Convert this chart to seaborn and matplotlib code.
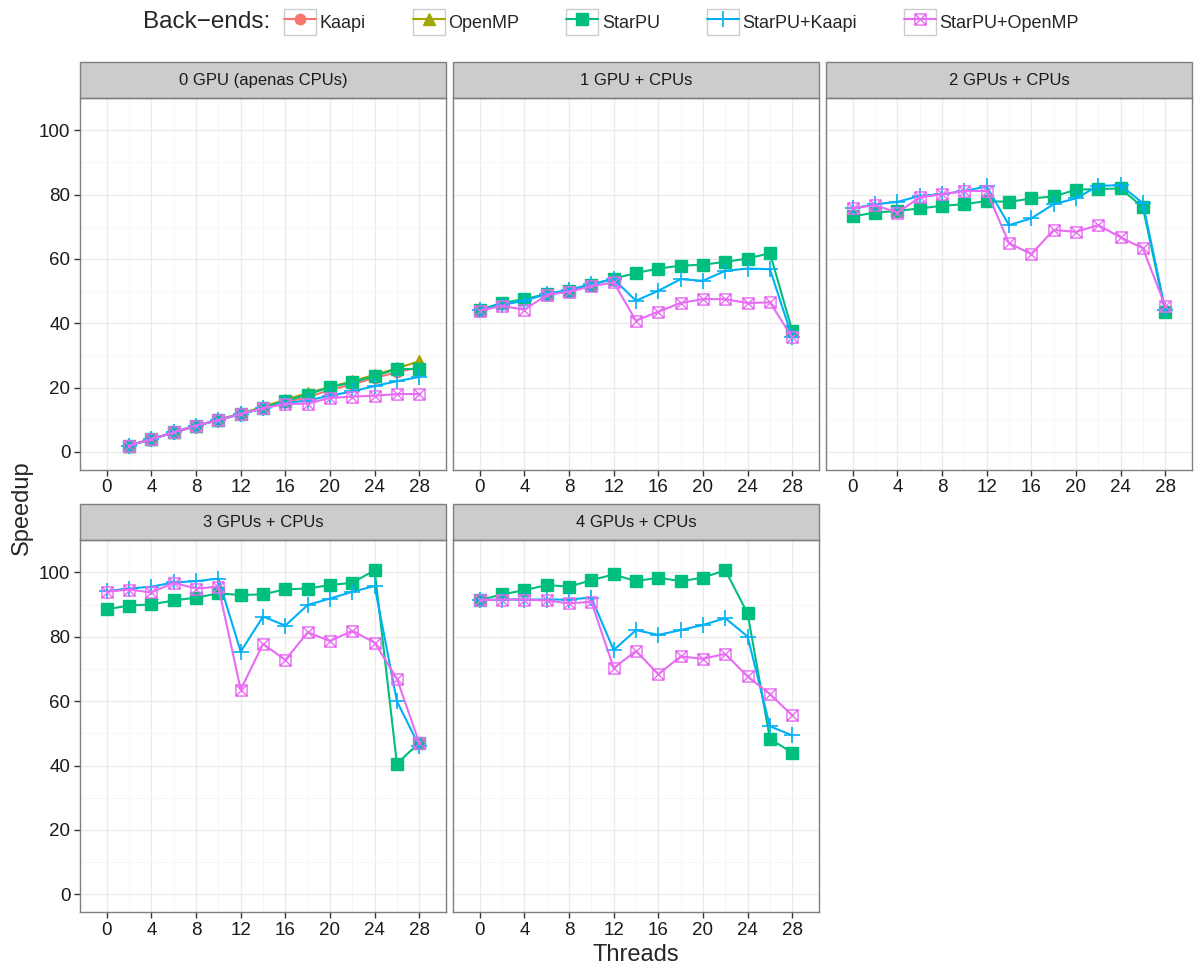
import numpy as np
import pandas as pd
import matplotlib
matplotlib.use("Agg")
import matplotlib.pyplot as plt
import seaborn as sns
from matplotlib.path import Path
from matplotlib.patches import Rectangle
from matplotlib.lines import Line2D
from matplotlib.legend_handler import HandlerLine2D

# ---- data ----
panels = ["0 GPU (apenas CPUs)", "1 GPU + CPUs", "2 GPUs + CPUs",
          "3 GPUs + CPUs", "4 GPUs + CPUs"]
backends = ["Kaapi", "OpenMP", "StarPU", "StarPU+Kaapi", "StarPU+OpenMP"]

threads_cpu = [2, 4, 6, 8, 10, 12, 14, 16, 18, 20, 22, 24, 26, 28]
threads_gpu = [0, 2, 4, 6, 8, 10, 12, 14, 16, 18, 20, 22, 24, 26, 28]

# 0 GPU
cpu_kaapi = [2.0, 4.0, 6.0, 8.0, 10.0, 11.8, 13.6, 15.5, 17.0, 19.3, 21.0, 23.0, 24.8, 26.3]
cpu_openmp = [2.0, 4.0, 6.1, 8.2, 10.0, 12.0, 14.0, 16.3, 18.3, 20.2, 22.0, 24.0, 26.0, 28.2]
cpu_starpu = [2.0, 4.0, 6.1, 8.2, 9.9, 11.8, 13.6, 15.9, 17.8, 20.2, 21.6, 23.6, 25.8, 25.8]
cpu_sp_kaapi = [2.0, 4.0, 6.1, 8.2, 9.9, 11.8, 13.6, 15.2, 16.0, 17.5, 18.8, 20.5, 22.0, 23.3]
cpu_sp_openmp = [2.0, 4.0, 6.1, 8.2, 9.9, 11.8, 13.6, 14.9, 15.0, 16.8, 17.2, 17.5, 18.0, 18.0]

# 1 GPU
g1_starpu = [44.2, 46.3, 47.5, 49.1, 50.1, 51.9, 53.9, 55.6, 57.0, 57.9, 58.2, 59.1, 60.1, 61.8, 37.7]
g1_sp_kaapi = [44.2, 45.7, 47.0, 49.1, 50.4, 52.2, 53.7, 47.0, 50.1, 53.7, 53.2, 56.3, 57.0, 56.8, 35.6]
g1_sp_openmp = [43.9, 45.4, 44.2, 48.8, 49.8, 51.5, 52.7, 40.8, 43.6, 46.3, 47.5, 47.5, 46.3, 46.5, 35.6]

# 2 GPUs
g2_starpu = [73.2, 74.4, 74.9, 75.7, 76.5, 77.0, 78.0, 77.7, 78.8, 79.4, 81.5, 81.7, 81.9, 76.0, 43.4]
g2_sp_kaapi = [75.7, 77.0, 77.7, 79.6, 80.1, 81.1, 82.5, 70.5, 72.6, 77.0, 78.8, 82.7, 82.9, 77.3, 44.2]
g2_sp_openmp = [75.7, 76.7, 74.4, 79.1, 80.1, 81.1, 81.1, 64.9, 61.5, 69.0, 68.4, 70.5, 66.7, 63.3, 45.4]

# 3 GPUs
g3_starpu = [88.6, 89.7, 90.1, 91.3, 92.2, 93.5, 93.0, 93.2, 94.8, 95.0, 96.1, 96.8, 100.7, 40.6, 47.1]
g3_sp_kaapi = [94.2, 95.0, 95.6, 96.9, 97.3, 98.1, 75.4, 86.3, 83.5, 89.9, 91.9, 94.0, 95.8, 60.0, 46.0]
g3_sp_openmp = [94.0, 94.7, 93.8, 96.8, 95.0, 95.6, 63.6, 77.8, 72.8, 81.4, 78.7, 81.9, 78.2, 67.0, 47.1]

# 4 GPUs
g4_starpu = [91.4, 93.2, 94.5, 96.1, 95.6, 97.6, 99.4, 97.3, 98.4, 97.3, 98.4, 100.7, 87.3, 48.3, 44.0]
g4_sp_kaapi = [91.4, 91.6, 91.6, 91.6, 91.6, 92.2, 75.9, 82.1, 80.6, 82.1, 83.7, 85.8, 80.1, 52.2, 49.4]
g4_sp_openmp = [91.4, 91.6, 91.6, 91.3, 90.4, 90.9, 70.3, 75.6, 68.4, 73.9, 73.2, 74.7, 67.7, 62.2, 55.6]

series = [
    (panels[0], "Kaapi", threads_cpu, cpu_kaapi),
    (panels[0], "OpenMP", threads_cpu, cpu_openmp),
    (panels[0], "StarPU", threads_cpu, cpu_starpu),
    (panels[0], "StarPU+Kaapi", threads_cpu, cpu_sp_kaapi),
    (panels[0], "StarPU+OpenMP", threads_cpu, cpu_sp_openmp),
    (panels[1], "StarPU", threads_gpu, g1_starpu),
    (panels[1], "StarPU+Kaapi", threads_gpu, g1_sp_kaapi),
    (panels[1], "StarPU+OpenMP", threads_gpu, g1_sp_openmp),
    (panels[2], "StarPU", threads_gpu, g2_starpu),
    (panels[2], "StarPU+Kaapi", threads_gpu, g2_sp_kaapi),
    (panels[2], "StarPU+OpenMP", threads_gpu, g2_sp_openmp),
    (panels[3], "StarPU", threads_gpu, g3_starpu),
    (panels[3], "StarPU+Kaapi", threads_gpu, g3_sp_kaapi),
    (panels[3], "StarPU+OpenMP", threads_gpu, g3_sp_openmp),
    (panels[4], "StarPU", threads_gpu, g4_starpu),
    (panels[4], "StarPU+Kaapi", threads_gpu, g4_sp_kaapi),
    (panels[4], "StarPU+OpenMP", threads_gpu, g4_sp_openmp),
]
rows = []
for cfg, be, xs, ys in series:
    for x, y in zip(xs, ys):
        rows.append({"config": cfg, "backend": be, "Threads": x, "Speedup": y})
df = pd.DataFrame(rows)

# ---- style ----
sns.set_style("white")
plt.rcParams["font.family"] = ["Liberation Sans", "DejaVu Sans"]

colors = dict(zip(backends, ["#F8766D", "#A3A500", "#00BF7D", "#00B0F6", "#E76BF3"]))

# square with an X inside (ggplot shape 7)
box_x = Path([(-1, -1), (1, -1), (1, 1), (-1, 1), (-1, -1),
              (-1, -1), (1, 1), (-1, 1), (1, -1)],
             [Path.MOVETO, Path.LINETO, Path.LINETO, Path.LINETO, Path.CLOSEPOLY,
              Path.MOVETO, Path.LINETO, Path.MOVETO, Path.LINETO])

mstyle = {
    "Kaapi": dict(marker="o", markersize=7.5),
    "OpenMP": dict(marker="^", markersize=8.5),
    "StarPU": dict(marker="s", markersize=8),
    "StarPU+Kaapi": dict(marker="+", markersize=12, markeredgewidth=1.2),
    "StarPU+OpenMP": dict(marker=box_x, markersize=8, markerfacecolor="none",
                          markeredgewidth=1.0),
}


def draw(data, **kws):
    ax = plt.gca()
    for be in backends:
        sub = data[data["backend"] == be]
        if sub.empty:
            continue
        ax.plot(sub["Threads"], sub["Speedup"], color=colors[be], lw=1.5, **mstyle[be])


g = sns.FacetGrid(df, col="config", col_order=panels, col_wrap=3,
                  sharex=True, sharey=True, height=3.7, aspect=1.0)
g.map_dataframe(draw)
fig = g.figure
fig.set_size_inches(11.95, 9.67)
fig.subplots_adjust(left=80 / 1195, right=1192 / 1195, top=1 - 98 / 967,
                    bottom=1 - 912 / 967, wspace=0.019, hspace=0.19)

strip_h = 36 / 372
for i, (ax, name) in enumerate(zip(g.axes.flat, panels)):
    ax.set_xlim(-2.4, 30.4)
    ax.set_ylim(-5.5, 110)
    ax.set_xticks(np.arange(0, 29, 4))
    ax.set_xticks(np.arange(2, 29, 4), minor=True)
    ax.set_yticks(np.arange(0, 101, 20))
    ax.set_yticks(np.arange(10, 111, 20), minor=True)
    ax.grid(which="major", color="#EBEBEB", lw=1.0)
    ax.grid(which="minor", color="#F5F5F5", lw=0.6)
    ax.set_axisbelow(True)
    for s in ax.spines.values():
        s.set_color("#7F7F7F")
        s.set_linewidth(1.0)
        s.set_visible(True)
    ax.tick_params(which="major", direction="out", length=4, width=1,
                   color="#333333", labelsize=13.5, labelcolor="#1a1a1a",
                   labelbottom=True, bottom=True, left=(i % 3 == 0), pad=3)
    ax.tick_params(which="minor", length=0)
    ax.set_title("")
    ax.set_xlabel("")
    ax.set_ylabel("")
    ax.add_patch(Rectangle((0, 1), 1, strip_h, transform=ax.transAxes, clip_on=False,
                           facecolor="#CCCCCC", edgecolor="#7F7F7F", lw=1.0))
    ax.text(0.5, 1 + strip_h / 2, name, transform=ax.transAxes, ha="center",
            va="center", fontsize=12, color="#1a1a1a")

fig.text(636 / 1195, 1 - 955 / 967, "Threads", ha="center", va="center", fontsize=17)
fig.text(22 / 1195, 1 - 508 / 967, "Speedup", ha="center", va="center",
         rotation=90, fontsize=17)


# legend keys drawn inside grey-bordered boxes, like ggplot
class BoxedHandler(HandlerLine2D):
    def create_artists(self, legend, orig_handle, xdescent, ydescent, width,
                       height, fontsize, trans):
        arts = super().create_artists(legend, orig_handle, xdescent, ydescent,
                                      width, height, fontsize, trans)
        box = Rectangle((-xdescent, -ydescent), width, height, transform=trans,
                        facecolor="white", edgecolor="#CCCCCC", lw=1.0)
        return [box] + list(arts)


handles = [Line2D([], [], color=colors[be], lw=1.5, **mstyle[be]) for be in backends]
fig.text(143 / 1195, 1 - 22 / 967, "Back\u2212ends:", ha="left", va="center", fontsize=17.5)
fig.legend(handles, backends, loc="center left",
           bbox_to_anchor=(284 / 1195, 1 - 22 / 967), ncol=5, frameon=False,
           fontsize=13, handlelength=1.77, handleheight=1.77, handletextpad=0.2,
           columnspacing=2.6, borderpad=0, borderaxespad=0,
           handler_map={Line2D: BoxedHandler(numpoints=1)})

fig.savefig("out.png", dpi=100)
